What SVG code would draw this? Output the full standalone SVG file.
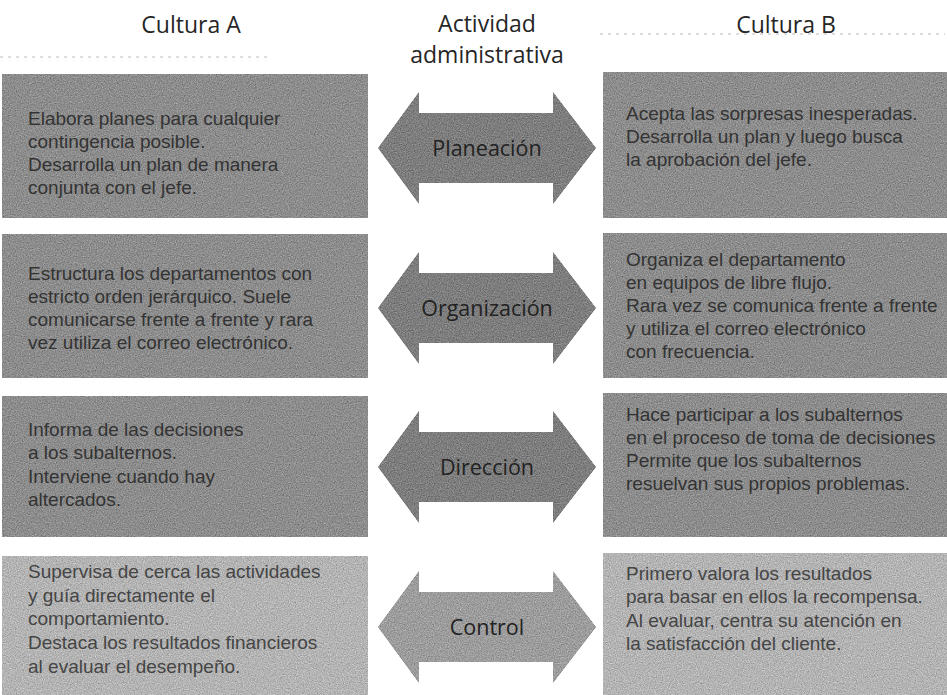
<svg xmlns="http://www.w3.org/2000/svg" width="947" height="695" viewBox="0 0 947 695">
<style>
  .hdr{font-family:"Open Sans","Liberation Sans",sans-serif;font-size:23px;fill:#262626;text-anchor:middle}
  .txt{font-family:"Liberation Sans",Arial,sans-serif;font-size:19px;fill:#333}
  .txt4{font-family:"Liberation Sans",Arial,sans-serif;font-size:19px;fill:#454545}
  .lbl{font-family:"Open Sans","Liberation Sans",sans-serif;font-size:21.5px;fill:#222;text-anchor:middle}
  .box{fill:#8d8d8d;filter:url(#grain)}
  .box4{fill:#b4b4b4;filter:url(#grain)}
  .arr{fill:#7e7e7e;filter:url(#grain)}
  .arr4{fill:#9d9d9d;filter:url(#grain)}
  .noise{stroke:#d2d2d2;stroke-width:1.5;stroke-dasharray:3 5;fill:none}
</style>
<defs>
  <filter id="grain" x="0" y="0" width="100%" height="100%" color-interpolation-filters="sRGB">
    <feTurbulence type="fractalNoise" baseFrequency="0.85" numOctaves="2" seed="4" result="n"/>
    <feColorMatrix in="n" type="matrix" values="0.33 0.33 0.33 0 0  0.33 0.33 0.33 0 0  0.33 0.33 0.33 0 0  0 0 0 0 1" result="g"/>
    <feComposite in="SourceGraphic" in2="g" operator="arithmetic" k1="0" k2="1" k3="0.6" k4="-0.3" result="m"/>
    <feComposite in="m" in2="SourceGraphic" operator="in"/>
  </filter>
  <path id="dbl" d="M0,0 L41,-56 L41,-35 L175,-35 L175,-56 L218,0 L175,56 L175,35 L41,35 L41,56 Z"/>
</defs>
<rect width="947" height="695" fill="#ffffff"/>
<g id="scan-noise">
  <line class="noise" x1="0" y1="57" x2="272" y2="57"/>
  <line class="noise" x1="600" y1="34" x2="945" y2="34"/>
</g>
<g id="headers">
  <text class="hdr" x="191" y="33">Cultura A</text>
  <text class="hdr" x="487" y="32">Actividad</text>
  <text class="hdr" x="487" y="63">administrativa</text>
  <text class="hdr" x="786" y="33">Cultura B</text>
</g>
<g id="connectors">
  <g id="arrow-planeacion"><use href="#dbl" class="arr" x="378" y="148"/><text class="lbl" x="487" y="156">Planeación</text></g>
  <g id="arrow-organizacion"><use href="#dbl" class="arr" x="378" y="308"/><text class="lbl" x="487" y="316">Organización</text></g>
  <g id="arrow-direccion"><use href="#dbl" class="arr" x="378" y="467"/><text class="lbl" x="487" y="475">Dirección</text></g>
  <g id="arrow-control"><use href="#dbl" class="arr4" x="378" y="627"/><text class="lbl" x="487" y="635">Control</text></g>
</g>
<g id="a-planeacion">
  <rect class="box" x="2" y="74" width="366" height="144"/>
  <text class="txt" x="28" y="125">Elabora planes para cualquier</text>
  <text class="txt" x="28" y="148">contingencia posible.</text>
  <text class="txt" x="28" y="171">Desarrolla un plan de manera</text>
  <text class="txt" x="28" y="194">conjunta con el jefe.</text>
</g>
<g id="b-planeacion">
  <rect class="box" x="603" y="72" width="344" height="146"/>
  <text class="txt" x="626" y="120">Acepta las sorpresas inesperadas.</text>
  <text class="txt" x="626" y="143">Desarrolla un plan y luego busca</text>
  <text class="txt" x="626" y="166">la aprobación del jefe.</text>
</g>
<g id="a-organizacion">
  <rect class="box" x="2" y="234" width="366" height="144"/>
  <text class="txt" x="28" y="280">Estructura los departamentos con</text>
  <text class="txt" x="28" y="303">estricto orden jerárquico. Suele</text>
  <text class="txt" x="28" y="326">comunicarse frente a frente y rara</text>
  <text class="txt" x="28" y="349">vez utiliza el correo electrónico.</text>
</g>
<g id="b-organizacion">
  <rect class="box" x="603" y="233" width="344" height="145"/>
  <text class="txt" x="626" y="266">Organiza el departamento</text>
  <text class="txt" x="626" y="289">en equipos de libre flujo.</text>
  <text class="txt" x="626" y="312">Rara vez se comunica frente a frente</text>
  <text class="txt" x="626" y="335">y utiliza el correo electrónico</text>
  <text class="txt" x="626" y="358">con frecuencia.</text>
</g>
<g id="a-direccion">
  <rect class="box" x="2" y="396" width="366" height="141"/>
  <text class="txt" x="28" y="436">Informa de las decisiones</text>
  <text class="txt" x="28" y="459">a los subalternos.</text>
  <text class="txt" x="28" y="483">Interviene cuando hay</text>
  <text class="txt" x="28" y="506">altercados.</text>
</g>
<g id="b-direccion">
  <rect class="box" x="603" y="393" width="344" height="144"/>
  <text class="txt" x="626" y="421">Hace participar a los subalternos</text>
  <text class="txt" x="626" y="444">en el proceso de toma de decisiones</text>
  <text class="txt" x="626" y="467">Permite que los subalternos</text>
  <text class="txt" x="626" y="490">resuelvan sus propios problemas.</text>
</g>
<g id="a-control">
  <rect class="box4" x="2" y="556" width="366" height="139"/>
  <text class="txt4" x="28" y="578">Supervisa de cerca las actividades</text>
  <text class="txt4" x="28" y="602">y guía directamente el</text>
  <text class="txt4" x="28" y="625">comportamiento.</text>
  <text class="txt4" x="28" y="649">Destaca los resultados financieros</text>
  <text class="txt4" x="28" y="673">al evaluar el desempeño.</text>
</g>
<g id="b-control">
  <rect class="box4" x="603" y="553" width="344" height="142"/>
  <text class="txt4" x="626" y="580">Primero valora los resultados</text>
  <text class="txt4" x="626" y="603">para basar en ellos la recompensa.</text>
  <text class="txt4" x="626" y="627">Al evaluar, centra su atención en</text>
  <text class="txt4" x="626" y="650">la satisfacción del cliente.</text>
</g>
</svg>
